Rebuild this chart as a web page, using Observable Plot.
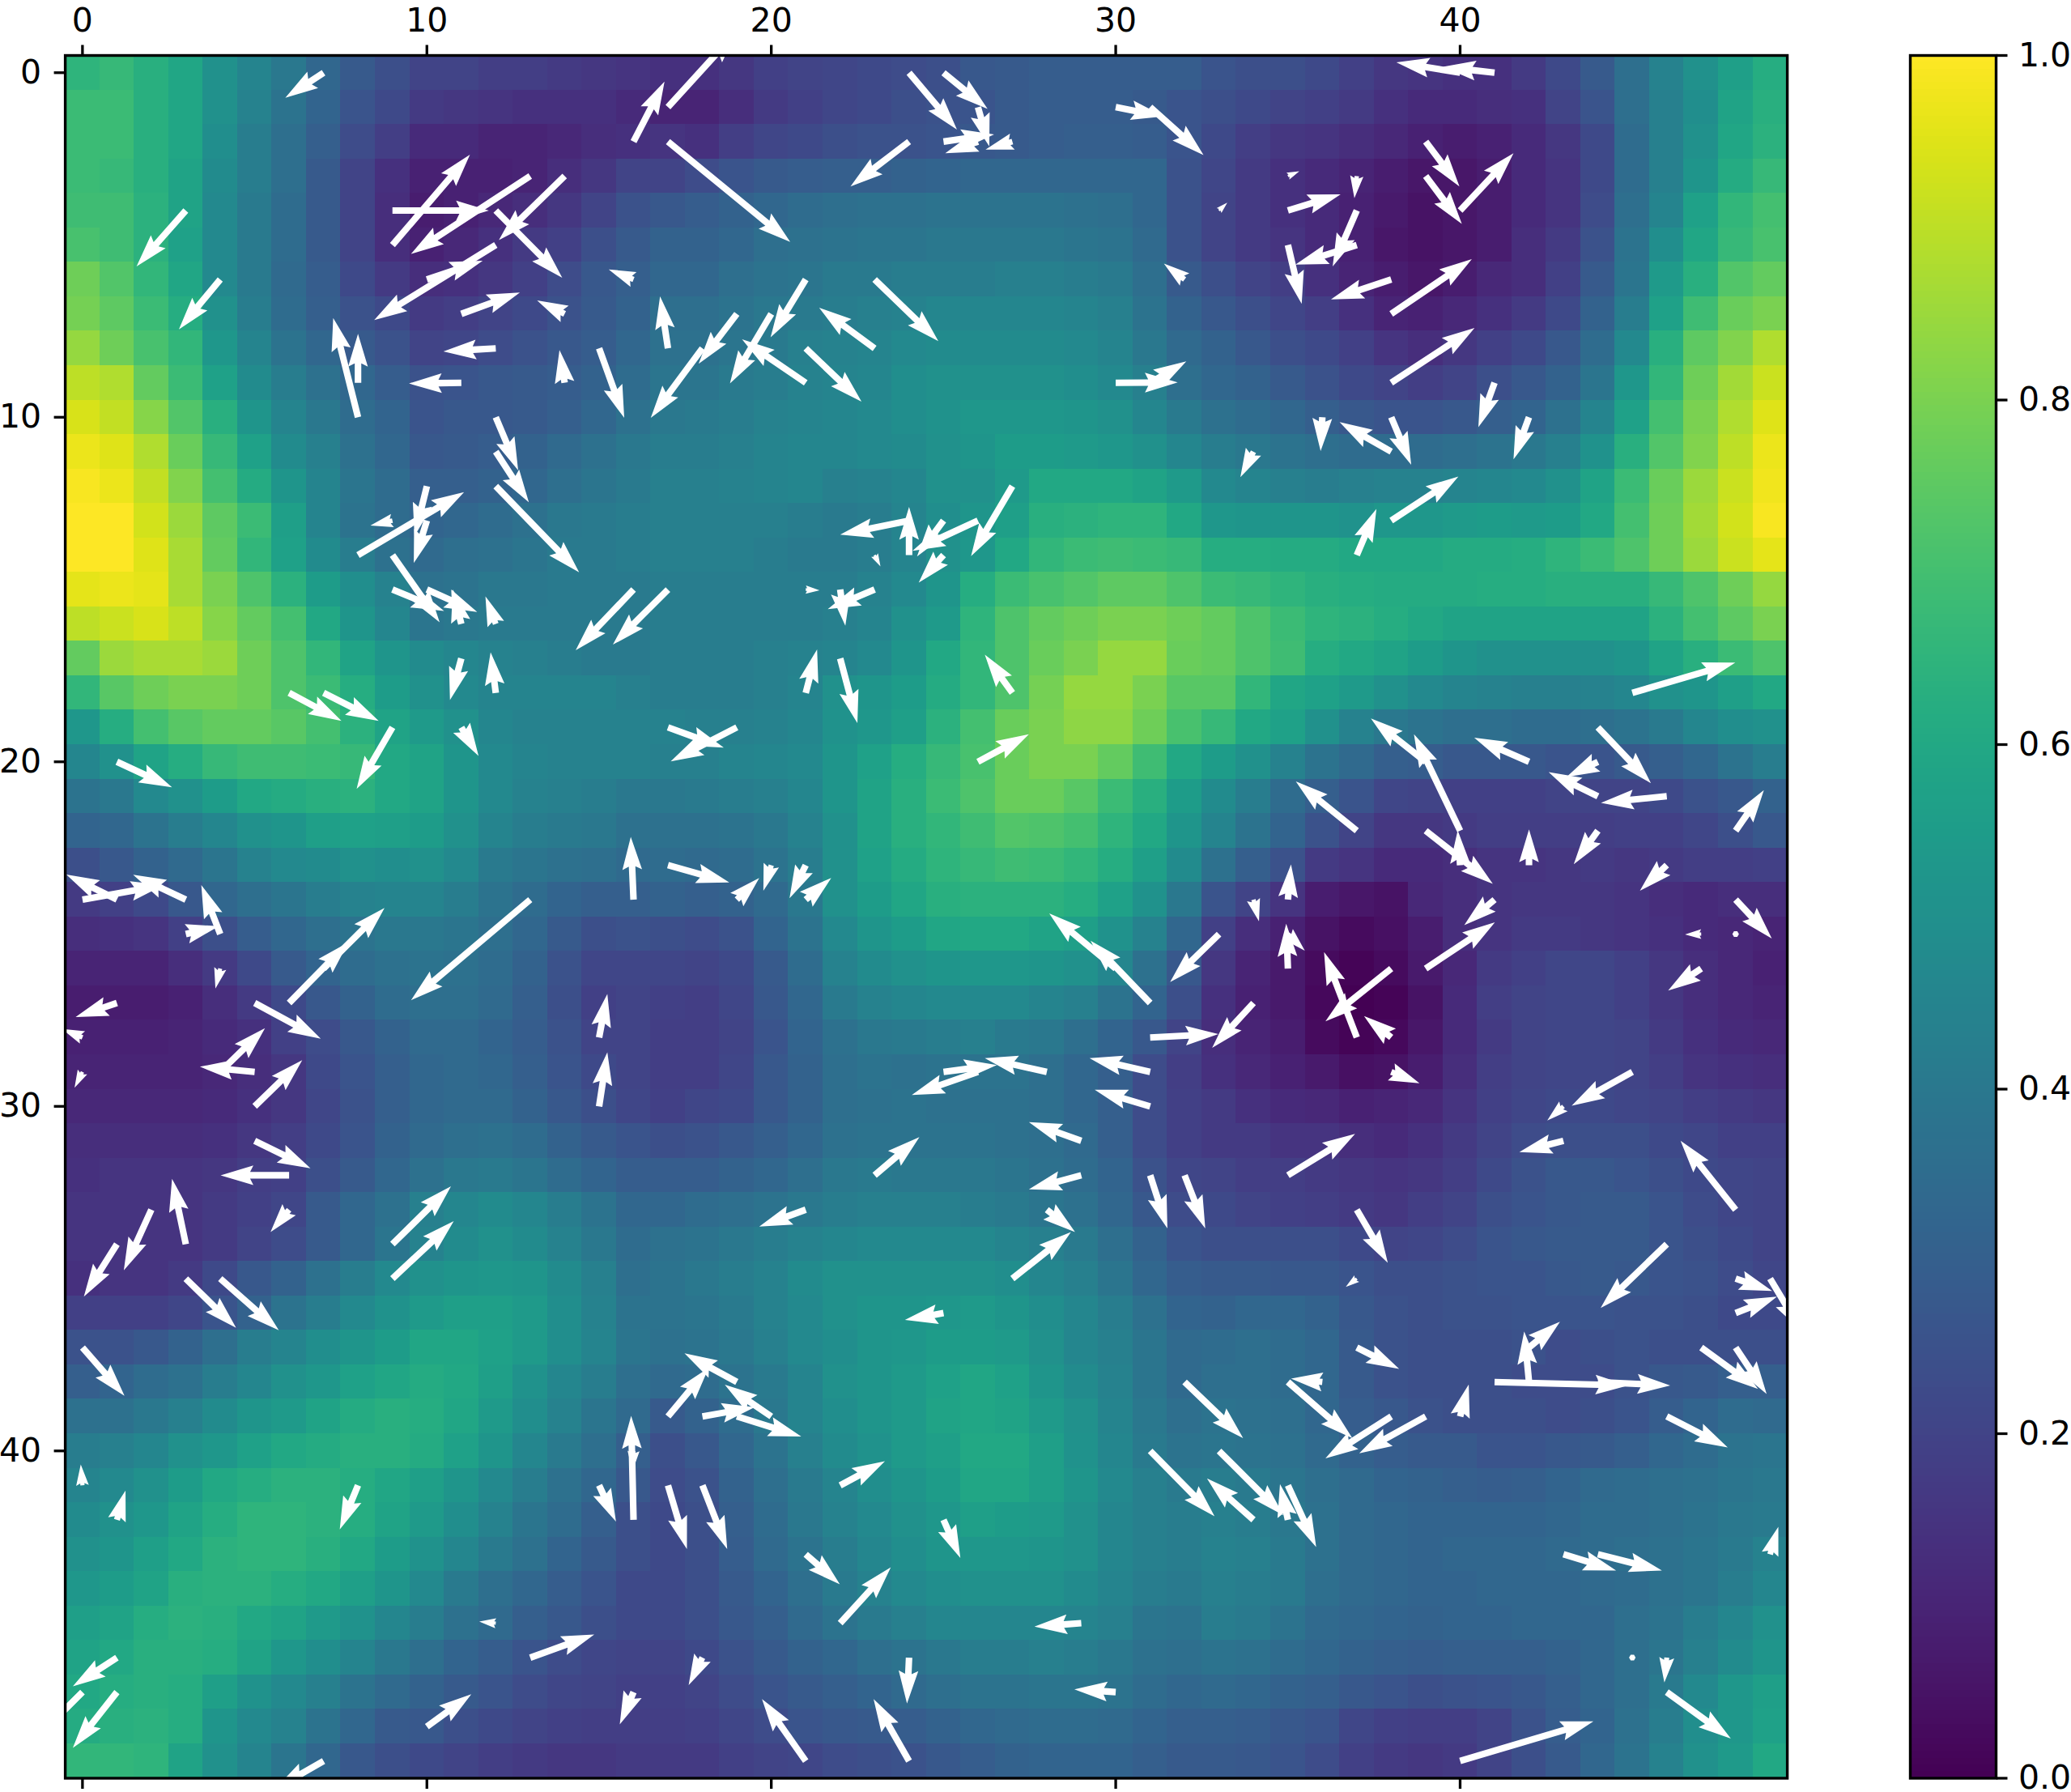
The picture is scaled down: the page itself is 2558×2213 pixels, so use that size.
<!DOCTYPE html>
<html><head><meta charset="utf-8">
<style>html,body{margin:0;padding:0;background:#fff;overflow:hidden}#page{position:relative;width:2558px;height:2213px;overflow:hidden}#page svg{position:absolute;top:0;background:none;max-width:none}</style>
<script src="https://cdn.jsdelivr.net/npm/d3@7"></script>
<script src="https://cdn.jsdelivr.net/npm/@observablehq/plot@0.6"></script>
</head><body><div id="page"></div>
<script>
// Heat values, in percent of the colour range; one row per image row.
const heatRows = [
[65,67,63,59,50,45,40,33,28,24,20,20,18,18,17,16,15,14,14,16,19,20,21,22,23,24,27,28,29,29,29,29,29,26,24,24,22,19,16,15,14,14,17,22,28,36,44,50,56,62],
[68,68,63,59,50,44,38,32,26,22,17,16,15,14,14,14,12,10,10,13,17,19,21,22,24,25,26,28,29,29,29,28,26,24,22,20,19,17,14,12,12,13,14,20,26,36,43,49,58,63],
[68,68,63,59,49,42,36,30,23,18,12,12,10,10,11,13,14,15,14,18,21,22,24,25,25,26,27,28,29,30,30,29,26,22,18,16,15,13,11,9,8,9,12,16,22,35,43,50,59,64],
[68,67,63,58,48,42,36,28,20,14,9,9,9,10,13,16,20,20,23,26,28,29,30,30,31,32,33,33,33,33,33,33,25,21,17,14,12,10,8,6,6,8,12,15,22,35,43,52,61,67],
[69,69,64,58,47,41,35,28,20,13,8,9,11,13,16,20,25,27,29,31,33,35,36,37,37,38,38,38,38,37,36,33,25,20,17,14,12,9,7,5,6,8,12,15,23,36,45,57,66,70],
[71,69,64,57,47,41,35,28,20,13,9,11,14,17,19,24,28,31,31,33,36,37,38,39,39,40,40,40,40,39,38,34,25,20,17,15,12,9,6,5,6,8,13,17,25,38,49,59,67,71],
[78,73,66,59,47,41,34,29,22,17,13,14,16,19,23,27,30,33,33,36,38,39,41,41,42,42,42,43,43,42,41,36,28,24,20,18,14,10,8,6,8,11,13,19,28,39,54,63,73,76],
[79,75,68,62,50,42,35,30,25,22,17,18,20,22,25,28,31,36,36,38,40,41,42,43,44,46,46,46,46,45,43,38,31,27,24,21,18,14,10,9,11,14,17,22,31,42,57,69,77,80],
[84,78,71,66,53,45,38,33,28,25,20,21,23,25,27,29,33,37,37,39,41,43,44,45,47,48,48,48,48,47,45,40,34,31,27,24,22,19,15,13,16,19,22,27,35,47,63,75,81,88],
[90,88,76,68,57,48,42,37,33,29,25,26,27,28,29,31,35,39,39,41,42,44,45,46,49,50,50,50,50,49,47,43,36,33,31,28,25,22,20,18,20,24,27,31,39,53,66,78,86,92],
[94,91,82,73,63,52,45,40,35,32,26,27,27,28,30,33,37,40,41,42,44,45,46,47,49,51,53,53,53,52,50,46,41,37,35,33,30,27,26,26,27,30,32,37,45,57,70,80,88,95],
[97,95,88,77,67,57,48,43,37,33,27,28,29,31,34,37,40,42,42,43,45,46,46,47,48,50,52,55,55,54,53,50,46,42,40,38,36,35,35,35,36,38,40,43,51,63,73,81,90,97],
[99,97,91,81,70,61,52,45,39,35,30,30,31,33,36,39,41,43,43,44,45,46,43,44,46,50,50,54,60,60,60,58,54,47,45,43,42,43,44,44,45,46,47,50,58,68,77,85,92,98],
[100,100,93,85,75,68,56,45,38,35,32,33,35,37,40,41,42,43,43,43,43,42,41,42,45,49,52,56,63,64,65,65,60,53,52,52,52,51,53,53,54,55,54,55,60,70,78,86,93,99],
[100,100,95,87,76,66,57,48,42,37,34,36,37,39,41,41,42,43,43,43,42,41,41,42,45,50,53,60,66,68,69,68,67,62,62,61,61,60,60,60,61,61,62,65,68,72,78,85,92,96],
[96,97,96,87,80,72,64,55,49,44,37,38,40,40,41,41,41,42,42,42,42,42,42,44,47,52,62,68,71,73,75,75,72,68,67,65,63,62,61,61,61,62,62,63,63,63,67,72,78,84],
[90,92,94,90,82,76,70,60,52,46,39,40,41,41,41,41,41,42,42,42,42,42,43,45,50,54,65,72,76,78,80,80,78,76,72,68,65,64,62,60,58,58,58,58,58,58,64,70,75,80],
[76,85,87,87,85,78,72,66,58,52,48,46,44,43,42,41,41,42,42,42,43,44,45,47,52,60,66,72,77,80,84,84,77,76,72,69,62,60,58,55,52,50,50,50,50,52,58,63,68,72],
[66,74,78,80,80,78,72,68,62,55,50,47,45,45,45,45,43,42,42,42,43,45,50,52,55,61,66,72,79,84,84,80,74,74,66,59,57,54,50,47,45,44,43,43,44,46,50,52,56,60],
[53,62,70,74,76,76,74,70,64,58,54,50,46,44,44,44,44,44,43,43,44,46,51,53,56,64,70,77,80,83,83,78,71,67,60,57,50,44,40,38,36,36,35,35,36,38,41,46,49,50],
[46,50,58,62,67,69,69,68,67,60,58,52,47,45,44,44,44,43,43,45,46,47,52,57,62,67,71,77,80,80,76,69,60,55,50,44,38,34,30,29,27,27,27,26,26,28,30,33,38,42],
[38,40,47,50,55,60,61,63,64,60,58,52,47,44,43,42,40,40,41,42,43,46,52,58,63,68,72,77,77,74,68,63,55,48,42,35,30,26,21,20,19,19,19,20,20,20,22,25,27,31],
[32,33,38,42,46,50,52,56,57,56,55,50,45,42,41,40,37,37,37,38,40,44,50,58,63,66,69,73,72,70,65,60,52,45,38,32,25,20,16,16,17,18,18,18,18,19,19,21,24,27],
[24,27,31,34,39,44,47,48,50,49,50,47,41,39,37,36,34,35,34,35,38,42,50,57,61,65,67,69,68,66,62,56,48,37,30,25,17,15,12,12,13,15,15,16,17,16,17,18,18,19],
[17,19,22,27,33,36,39,42,44,45,45,42,38,35,32,30,30,31,30,31,34,40,50,55,59,63,64,64,64,62,57,51,40,26,20,15,8,6,5,11,13,15,16,16,16,15,13,12,13,13],
[13,14,15,19,24,29,33,36,38,40,40,39,36,33,28,24,25,24,23,25,32,38,47,52,55,59,60,60,58,56,51,44,33,19,13,9,5,3,4,8,13,15,17,17,16,15,14,12,11,10],
[10,10,10,13,17,22,28,32,35,37,38,37,35,31,25,21,21,21,20,22,28,35,44,48,50,52,53,53,52,50,46,37,27,16,10,7,3,1,3,7,11,17,19,21,21,19,16,13,11,9],
[8,8,8,9,13,17,22,27,31,35,36,36,34,30,24,19,20,19,18,21,27,33,41,44,46,47,47,47,45,43,38,32,24,14,9,7,2,0,1,5,12,18,20,21,21,19,16,13,11,10],
[9,9,9,10,12,14,19,23,27,31,34,34,32,29,25,20,20,18,18,20,26,32,37,40,41,42,43,41,40,36,32,27,20,13,10,8,3,1,2,6,12,17,20,21,21,20,17,14,12,11],
[10,10,10,10,11,13,16,22,26,30,33,34,33,30,26,22,20,18,18,21,27,31,36,38,37,38,38,38,36,33,30,23,18,14,11,9,7,4,5,8,13,18,20,21,21,20,18,15,14,13],
[11,11,11,11,12,14,16,21,25,30,33,34,34,31,27,24,21,19,21,22,27,31,36,37,38,37,37,37,36,33,30,23,19,17,14,12,11,9,10,11,15,19,21,22,22,21,20,18,17,16],
[13,13,13,13,14,16,18,22,26,31,34,36,37,35,31,28,26,24,25,27,30,33,37,38,38,38,38,37,36,34,30,23,19,17,17,15,15,13,12,14,17,20,23,24,24,24,22,21,19,19],
[14,15,15,15,16,18,19,24,28,33,37,40,41,39,35,32,29,29,29,31,33,36,40,41,40,40,40,39,37,35,32,25,21,20,18,18,17,16,15,16,18,22,25,27,27,26,24,22,21,20],
[15,15,15,15,17,19,21,28,33,37,43,46,48,46,42,38,33,33,35,36,38,40,42,43,43,43,42,41,39,37,33,27,23,22,20,19,18,17,16,18,20,24,26,27,28,28,26,23,21,20],
[15,15,15,15,17,20,23,28,33,39,44,48,50,48,44,40,35,37,38,40,42,44,46,47,47,47,47,45,43,41,36,31,26,24,24,24,24,22,20,21,23,26,27,28,28,28,26,24,22,20],
[14,15,15,17,22,27,31,37,42,47,50,52,53,52,48,43,36,38,40,42,44,48,50,50,50,50,50,49,46,43,39,33,29,28,28,27,27,26,24,24,25,26,26,27,28,27,26,25,23,21],
[19,19,19,21,26,31,38,42,47,51,54,56,56,54,49,44,38,38,39,41,44,47,50,52,52,53,54,52,49,46,42,37,32,31,33,33,31,27,25,24,25,25,26,26,26,25,25,24,22,22],
[25,25,27,31,36,42,45,49,52,55,59,59,57,54,49,45,39,37,38,40,43,47,49,52,53,55,55,54,50,46,43,39,34,35,36,35,33,28,25,24,24,24,25,23,24,25,24,24,24,24],
[30,32,35,37,42,46,50,53,57,59,61,60,56,51,46,42,36,34,35,38,41,45,50,52,54,57,59,57,52,48,44,39,34,36,36,35,33,28,25,24,24,24,23,23,23,25,27,28,30,30],
[37,37,40,43,48,52,54,58,61,63,62,59,54,49,44,39,34,28,31,35,40,45,49,52,54,58,59,58,54,50,45,40,36,38,37,36,33,29,27,25,24,24,24,23,24,26,29,32,35,34],
[42,43,46,50,53,57,60,61,63,63,61,57,52,46,41,36,30,24,27,33,38,43,48,51,54,56,60,60,56,51,46,41,38,39,38,37,34,31,29,28,28,26,26,27,28,30,33,35,38,39],
[45,47,50,55,60,62,64,64,62,59,56,52,47,42,37,33,27,23,25,31,36,41,45,49,52,55,59,59,56,52,47,43,41,42,41,39,36,34,32,31,30,29,30,32,34,35,36,37,39,40],
[48,50,53,58,62,65,65,64,62,58,54,49,44,39,35,30,24,22,24,30,35,40,44,47,50,53,56,55,54,50,46,43,42,43,42,40,37,34,33,32,32,32,32,33,35,35,36,38,40,41],
[50,52,56,60,64,65,65,63,60,55,51,46,41,37,32,28,24,22,24,29,34,38,42,46,49,52,53,53,52,50,46,43,42,44,43,41,37,34,33,32,33,33,33,34,35,36,37,39,41,44],
[53,55,58,63,64,64,62,60,56,52,47,41,36,33,29,26,22,22,24,28,32,36,41,44,47,49,50,50,50,48,45,42,41,43,42,41,36,34,33,32,32,33,33,33,34,35,37,39,42,46],
[56,58,62,64,63,60,58,54,51,46,42,37,34,30,27,24,22,22,24,27,30,34,38,41,43,46,46,46,46,45,43,39,38,42,41,38,34,33,32,31,32,32,33,33,33,36,38,42,46,50],
[58,60,63,63,62,58,53,49,45,40,36,32,29,26,23,21,20,20,22,25,28,31,33,36,38,40,42,42,43,42,40,37,36,38,37,35,33,31,30,29,30,30,30,31,33,36,39,43,48,52],
[60,62,63,62,56,51,47,43,38,34,31,28,26,23,21,20,19,19,20,23,26,28,30,32,34,36,38,38,39,39,38,35,33,34,33,31,30,27,26,24,25,26,27,30,33,36,41,47,53,56],
[61,63,64,62,52,47,44,38,33,28,27,24,22,20,19,18,18,18,19,21,23,26,27,28,29,31,33,34,35,35,34,32,30,30,29,27,26,21,19,18,18,20,25,29,32,37,42,49,53,57],
[66,66,65,58,50,45,39,33,27,24,22,20,18,17,16,16,17,17,17,19,20,21,23,24,25,27,29,31,32,32,32,30,28,28,27,26,23,19,17,16,17,20,24,28,33,38,44,50,54,60]
];

// Arrows: [tail x, tail y, tip x, tip y] in image cell units.
const arrows = [
[7,0,5.89,.73],[3,4,1.57,5.62],[4,6,2.8,7.45],[9,5,11.25,2.38],[9,4,11.8,4],[13,3,9.54,5.26],[14,3,12.09,4.86],[12,4,13.93,5.95],
[12,5,8.47,7.18],[10,6,11.62,5.46],[11,7,12.7,6.38],[14,7,13.2,6.61],[16,6,15.28,5.71],[8,10,7.28,7.12],[8,9,8,7.58],[12,8,10.48,8.09],
[11,9,9.48,9.02],[14,9,13.85,8.05],[15,8,15.73,10.02],[12,10,12.65,11.54],[12,11,12.96,12.47],[12,12,14.42,14.5],[8,14,11.08,12.17],[9,13,8.36,13.14],
[10,12,9.64,13.45],[10,13,9.62,14.23],[9,14,10.37,15.95],[9,15,10.5,15.62],[10,15,11.46,15.65],[11,16,10.75,15],[12,16,11.7,15.2],
[16,2,16.9,.26],[17,1,19,-1.2],[17,2,20.55,4.91],[24,0,25.39,1.65],[25,0,26.28,1.05],[26,1,26.33,2.14],[25,2,26.47,1.79],[26,2,25.05,2.34],[27,2,26.22,2.23],
[24,2,22.3,3.3],[30,1,31.4,1.27],[31,1,32.55,2.39],[21,6,19.98,7.68],[23,8,21.39,6.82],[23,6,24.85,7.79],[17,8,16.77,6.49],[19,7,17.89,8.45],
[20,7,18.8,9.02],[21,9,19.15,7.74],[21,8,22.62,9.55],[18,8,16.5,10.02],[32,6,31.4,5.54],[30,9,31.8,8.99],[31,9,32.05,8.38],[33,4,33.24,3.77],
[35,3,35.33,2.86],[35,4,36.53,3.53],[37,3,36.93,3.64],[37,4,36.3,5.62],[37,5,35.22,5.57],[35,5,35.4,6.71],[38,6,36.25,6.58],[38,7,40.34,5.41],
[38,9,40.42,7.41],[39,2,39.98,3.3],[39,3,40.05,4.39],[40,4,41.55,2.34],[41,0,39.5,-.17],[40,0,38.15,-.3],[41,9,40.53,10.29],[42,10,41.55,11.22],
[38,10,38.58,11.38],[38,11,36.5,10.14],[36,10,35.95,10.98],[34,11,33.62,11.74],[38,13,39.95,11.72],[37,14,37.57,12.66],[27,12,25.8,14.03],[26,13,24.1,13.88],
[25,13,24.23,14.04],[24,14,24,12.6],[24,13,22,13.41],[23,14,23.17,14.33],[25,14,24.28,14.8],[21,15,21.4,15.02],[22,15,22.15,16.05],[23,15,21.64,15.57],
[17,15,15.4,16.6],[16,15,14.32,16.76],[11,17,10.67,18.21],[12,18,11.85,16.82],[11,19,11.5,19.83],[6,18,7.52,18.81],[7,18,8.6,18.81],[9,19,7.96,20.79],
[1,20,2.6,20.74],[3,24,1.47,23.28],[0,24,2.36,23.58],[1,24,-.47,23.27],[4,25,3.45,23.58],[3,25,3.96,24.77],[4,26,3.86,26.58],[1,27,-.2,27.41],
[0,28,-.6,27.75],[0,29,-.23,29.46],[5,27,6.92,28.04],[6,27,7.72,25.24],[7,26,8.77,24.24],[13,24,9.54,26.92],[5,29,3.41,28.85],[4,29,5.3,27.73],
[5,30,6.38,28.66],[5,31,6.62,31.8],[6,32,4.01,32],[16,24,15.92,22.18],[15,28,15.24,26.74],[15,30,15.24,28.43],[3,34,2.6,32.1],[2,33,1.2,34.76],
[1,34,.04,35.52],[6,33,5.46,33.65],[9,34,10.7,32.32],[9,35,10.78,33.33],[3,35,4.46,36.43],[4,35,5.7,36.5],[0,37,1.22,38.4],[0,41,-.05,40.39],
[1,42,1.25,41.15],[8,41,7.47,42.28],[16,42,15.93,38.98],[16,40,15.97,40.58],[15,41,15.49,42.05],[12,45,11.52,44.95],[13,46,14.86,45.33],[1,46,-.28,46.83],
[1,47,-.28,48.62],[0,47,-1.4,48.4],[7,49,5.6,49.8],[10,48,11.29,47.06],[16,47,15.6,47.94],[21,18,21.33,16.74],[22,17,22.5,18.88],[27,18,26.2,16.89],
[26,20,27.48,19.2],[17,19,18.62,19.59],[19,19,17.08,19.99],[17,23,18.78,23.5],[19,24,19.65,23.37],[20,23,19.77,23.74],[21,23,20.53,23.96],[21,24,21.74,23.37],
[31,27,29.27,25.19],[30,26,28.07,24.4],[33,25,31.58,26.39],[31,28,32.98,27.9],[28,29,26.2,28.6],[25,29,26.55,28.8],[26,29,24.08,29.67],[31,29,29.24,28.6],
[31,30,29.39,29.52],[23,32,24.3,30.89],[29,31,27.48,30.46],[29,32,27.48,32.41],[31,32,31.5,33.54],[32,32,32.6,33.54],[21,33,19.65,33.49],[28,33,28.82,33.65],
[27,35,28.7,33.65],[25,36,23.88,36.2],[19,38,17.48,37.17],[17,39,18.18,37.59],[20,39,18.65,38.08],[18,39,19.52,38.73],[19,39,20.87,39.58],[22,41,23.3,40.3],
[17,41,17.55,42.85],[18,41,18.72,42.85],[21,43,21.99,43.87],[22,45,23.47,43.38],[25,42,25.49,43.11],[29,45,27.64,45.1],[30,47,28.8,46.92],[24,46,23.94,47.33],
[18,46,17.6,46.8],[21,49,19.73,47.2],[24,49,22.97,47.2],[31,40,32.87,41.9],[32,38,33.7,39.63],[34,42,32.65,40.8],[35,38,36.87,39.63],[35,42,34.77,40.96],
[33,40,34.87,41.87],[35,41,35.82,42.79],[38,39,36.09,40.22],[39,39,37.07,40.07],[36,38,35.09,37.9],[37,37,38.23,37.62],[37,33,37.9,34.54],[37,35,36.68,35.24],
[46,34,44.08,35.85],[42,38,41.86,36.53],[42,37,42.9,36.25],[41,38,44.88,38.1],[44,38,46.1,38.1],[40,39,40.25,38.07],[48,35,49.06,35.36],[48,36,49.2,35.52],
[49,35,49.9,36.5],[47,37,48.65,38.2],[48,37,48.9,38.35],[46,39,47.77,39.9],[49,43,49.24,42.2],[43,43,44.53,43.47],[44,43,45.86,43.47],[45,46,45.02,46],
[46,46,45.93,46.72],[46,47,47.86,48.35],[40,49,43.87,47.85],[48,33,46.4,31],[45,18,47.99,17.12],[40,22,38.66,19.2],[39,20,37.41,18.74],[42,20,40.41,19.3],
[44,19,45.54,20.62],[44,20,43.09,20.44],[44,21,42.57,20.3],[46,21,44.09,21.19],[37,22,35.23,20.57],[39,22,40.95,23.54],[40,23,39.93,21.99],[42,23,42,21.96],
[44,22,43.3,22.97],[46,23,45.22,23.74],[48,22,48.82,20.82],[48,24,49.05,25.13],[47,25,46.53,25.01],[48,25,48.02,25],[47,26,46.04,26.64],[41,24,40.12,24.74],
[39,26,41.01,24.66],[35,24,35.09,22.98],[34,24,34.16,24.63],[35,26,34.95,24.7],[35,25,35.49,25.48],[37,28,36.05,25.52],[38,26,36.09,27.53],[38,28,37.21,27.38],
[38,29,38.82,29.33],[34,27,32.8,28.3],[35,32,36.95,30.8],[45,29,43.24,29.98],[43,30,42.53,30.41],[43,31,41.72,31.33]
];

const xTicks = [0,10,20,30,40];
const yTicks = [0,10,20,30,40];
const barTicks = [0,0.2,0.4,0.6,0.8,1];

const cells = heatRows.flatMap((row, r) => row.map((v, c) => ({c, r, v})));
const quiverWidth = 8.1; // pixels, matplotlib-like shaft width
const quiverShape = {
  draw(ctx, l) {
    const w = quiverWidth;
    if (l < w) { // very short arrows collapse to a hexagon
      const a = w / 2;
      for (let i = 0; i < 6; i++) {
        const t = i * Math.PI / 3;
        if (i) ctx.lineTo(a * Math.sin(t), a * Math.cos(t)); else ctx.moveTo(a * Math.sin(t), a * Math.cos(t));
      }
      ctx.closePath();
      return;
    }
    const s = l < 5 * w ? l / (5 * w) : 1;
    const L = l < 5 * w ? 5 * w : l;
    const pts = [[-.5*w,0],[-.5*w,L-4.5*w],[-1.5*w,L-5*w],[0,L],[1.5*w,L-5*w],[.5*w,L-4.5*w],[.5*w,0]];
    pts.forEach(([u, v], i) => { if (i) ctx.lineTo(u*s, -v*s); else ctx.moveTo(u*s, -v*s); });
    ctx.closePath();
  }
};
const font = {fontFamily: "'DejaVu Sans'", background: "none"};
const tickOpts = {fontSize: 41, strokeWidth: 3.3, tickSize: 13.5, label: null};
const color = {type: "linear", scheme: "viridis", domain: [0, 1]};

const main = Plot.plot({
  width: 2558, height: 2213,
  marginLeft: 80.1, marginRight: 350.9, marginTop: 68, marginBottom: 17.5,
  style: font,
  x: {domain: [-.5, 49.5]},
  y: {domain: [49.5, -.5]},
  color,
  length: {type: "linear", domain: [0, 1], range: [0, 42.54]},
  marks: [
    Plot.rect(cells, {x1: d => d.c - .5, x2: d => d.c + .5, y1: d => d.r - .5, y2: d => d.r + .5, fill: d => d.v / 100, shapeRendering: "crispEdges"}),
    Plot.vector(arrows, {
      x: d => d[0], y: d => d[1],
      length: d => Math.hypot(d[2] - d[0], d[3] - d[1]),
      rotate: d => Math.atan2(d[2] - d[0], -(d[3] - d[1])) * 180 / Math.PI,
      anchor: "start", shape: quiverShape, fill: "white", stroke: "none", clip: true
    }),
    Plot.frame({stroke: "black", strokeWidth: 3.4}),
    Plot.axisX(xTicks, {...tickOpts, anchor: "top", tickPadding: 16}),
    Plot.axisX(xTicks, {...tickOpts, anchor: "bottom", tickFormat: () => ""}),
    Plot.axisY(yTicks, {...tickOpts, anchor: "left", tickPadding: 16})
  ]
});

const levels = d3.range(256);
const bar = Plot.plot({
  width: 300, height: 2213,
  marginLeft: 101, marginRight: 93, marginTop: 68, marginBottom: 17.5,
  style: {...font, left: "2258px"},
  x: {domain: [0, 1], axis: null},
  y: {domain: [0, 1]},
  color,
  marks: [
    Plot.rect(levels, {x1: 0, x2: 1, y1: d => d / 256, y2: d => (d + 1) / 256, fill: d => (d + .5) / 256, shapeRendering: "crispEdges"}),
    Plot.frame({stroke: "black", strokeWidth: 3.4}),
    Plot.axisY(barTicks, {...tickOpts, anchor: "right", tickPadding: 14, tickFormat: d3.format(".1f")})
  ]
});
document.getElementById("page").append(main, bar);
</script></body></html>
